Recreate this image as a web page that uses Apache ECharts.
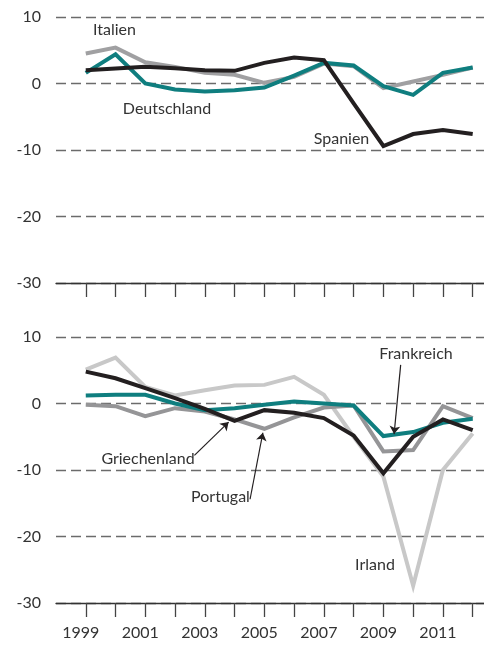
<!DOCTYPE html>
<html>
<head>
<meta charset="utf-8">
<script src="https://cdn.jsdelivr.net/npm/echarts@6/dist/echarts.min.js"></script>
<style>
	html, body { margin: 0; padding: 0; background: #fff; }
	#main { width: 484px; height: 645px; }
</style>
</head>
<body>
<div id="main"></div>
<script>
	// Jahre
	var years = [1999, 2000, 2001, 2002, 2003, 2004, 2005, 2006, 2007, 2008, 2009, 2010, 2011, 2012];
	var labelYears = [1999, 2001, 2003, 2005, 2007, 2009, 2011];

	// oben
	var italien = [4.5, 5.4, 3.2, 2.5, 1.6, 1.3, 0.1, 1.0, 3.0, 2.6, -0.7, 0.3, 1.3, 2.4];
	var deutschland = [1.6, 4.4, 0.0, -0.9, -1.2, -1.0, -0.6, 1.2, 3.1, 2.7, -0.4, -1.7, 1.6, 2.4];
	var spanien = [2.0, 2.25, 2.5, 2.3, 2.0, 1.9, 3.1, 3.9, 3.5, -3.0, -9.4, -7.6, -7.0, -7.6];

	// unten
	var irland = [5.1, 6.9, 2.5, 1.2, 2.0, 2.7, 2.8, 4.0, 1.3, -5.0, -11.0, -27.4, -10.0, -4.5];
	var portugal = [-0.2, -0.4, -1.9, -0.7, -1.2, -2.4, -3.8, -2.1, -0.6, -0.3, -7.2, -7.0, -0.4, -2.2];
	var frankreich = [1.2, 1.3, 1.3, 0.0, -1.0, -0.7, -0.2, 0.3, 0.0, -0.3, -4.9, -4.3, -2.9, -2.3];
	var griechenland = [4.8, 3.8, 2.3, 0.8, -0.8, -2.6, -1.0, -1.4, -2.2, -4.8, -10.5, -5.0, -2.4, -4.0];

	var FONT = 'Lato';
	var TXT = '#333';

	function pairs(vals) {
		var out = [];
		for (var i = 0; i < years.length; i++) {
			out.push([years[i], vals[i]]);
		}
		return out
	}

	function line(name, vals, color, idx) {
		return {
			name: name,
			type: 'line',
			xAxisIndex: idx,
			yAxisIndex: idx,
			data: pairs(vals),
			showSymbol: false,
			symbol: 'none',
			silent: true,
			lineStyle: { width: 4, color: color, join: 'miter' }
		}
	}

	function xAxisFor(idx, showLabels) {
		return {
			type: 'value',
			gridIndex: idx,
			min: 1998,
			max: 2012.38,
			splitLine: { show: false },
			axisLine: { show: true, onZero: false, lineStyle: { color: '#333', width: 1.3 } },
			axisTick: {
				show: true,
				customValues: years,
				length: 14,
				lineStyle: { color: '#444', width: 1.3 }
			},
			axisLabel: {
				show: showLabels,
				customValues: labelYears,
				formatter: function (v) { return String(v) },
				margin: 22,
				padding: [0, 10, 0, 0],
				fontFamily: FONT,
				fontSize: 16,
				color: TXT
			}
		}
	}

	function yAxisFor(idx) {
		return {
			type: 'value',
			gridIndex: idx,
			min: -30,
			max: 10,
			interval: 10,
			axisLine: { show: false },
			axisTick: { show: false },
			axisLabel: { margin: 15, fontFamily: FONT, fontSize: 16, color: TXT },
			splitLine: {
				show: true,
				lineStyle: { type: [10, 5], color: '#6b6b6b', width: 1.3 }
			}
		}
	}

	function arrow(from, to) {
		return [{ coord: from }, { coord: to }];
	}

	function label(text, x, y) {
		return {
			type: 'text',
			x: x,
			y: y,
			style: {
				text: text,
				fontFamily: FONT,
				fontSize: 16,
				fill: TXT,
				align: 'center',
				verticalAlign: 'middle'
			},
			z: 100
		}
	}

	var myChart = echarts.init(document.getElementById('main'));

	var griechenlandSeries = line('Griechenland', griechenland, '#231f20', 1);
	griechenlandSeries.markLine = {
		silent: true,
		symbol: ['none', 'arrow'],
		symbolSize: 8,
		label: { show: false },
		lineStyle: { color: '#231f20', width: 1.2, type: 'solid' },
		data: [
			arrow([2009.58, 5.8], [2009.36, -4.6]),
			arrow([2002.65, -7.8], [2003.8, -2.8]),
			arrow([2004.52, -14.4], [2004.95, -4.4])
		]
	};

	var option = {
		animation: false,
		backgroundColor: '#fff',
		grid: [
			{ left: 56, right: 0, top: 17, height: 266 },
			{ left: 56, right: 0, top: 337, height: 266 }
		],
		xAxis: [xAxisFor(0, false), xAxisFor(1, true)],
		yAxis: [yAxisFor(0), yAxisFor(1)],
		series: [
			line('Italien', italien, '#a0a0a2', 0),
			line('Deutschland', deutschland, '#0f7e7f', 0),
			line('Spanien', spanien, '#231f20', 0),
			line('Irland', irland, '#c8c8c8', 1),
			line('Portugal', portugal, '#959597', 1),
			line('Frankreich', frankreich, '#0f7e7f', 1),
			griechenlandSeries
		],
		graphic: [
			label('Italien', 114.5, 30),
			label('Deutschland', 167, 109),
			label('Spanien', 341.5, 139),
			label('Frankreich', 416, 354),
			label('Griechenland', 148, 459),
			label('Portugal', 220.5, 497),
			label('Irland', 375, 565)
		]
	};

	option && myChart.setOption(option);
</script>
</body>
</html>
